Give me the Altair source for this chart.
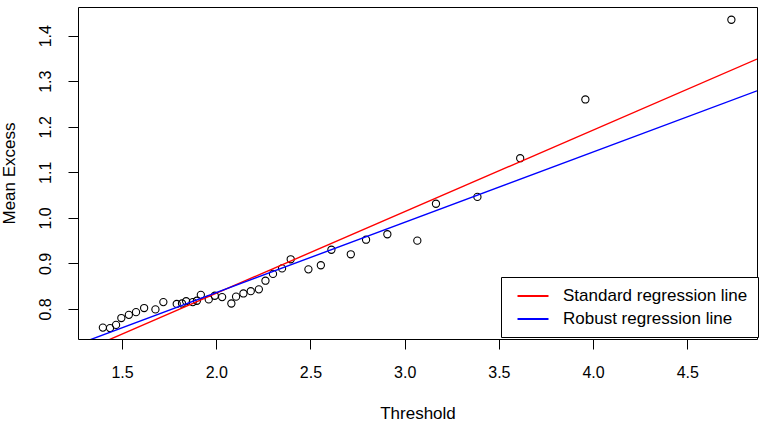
import altair as alt
import pandas as pd

# Mean excess points (threshold, mean excess)
threshold = [1.398, 1.436, 1.468, 1.496, 1.536, 1.574, 1.617, 1.677, 1.719, 1.790,
             1.818, 1.840, 1.875, 1.897, 1.918, 1.960, 1.992, 2.031, 2.080, 2.105,
             2.144, 2.183, 2.226, 2.261, 2.301, 2.349, 2.395, 2.489, 2.555, 2.611,
             2.714, 2.795, 2.908, 3.067, 3.166, 3.386, 3.613, 3.959, 4.734]
mean_excess = [0.759, 0.758, 0.765, 0.780, 0.787, 0.793, 0.802, 0.799, 0.815, 0.811,
               0.812, 0.817, 0.815, 0.818, 0.831, 0.821, 0.829, 0.826, 0.812, 0.827,
               0.834, 0.839, 0.843, 0.862, 0.877, 0.889, 0.909, 0.887, 0.896, 0.930,
               0.920, 0.952, 0.964, 0.950, 1.031, 1.046, 1.131, 1.260, 1.435]

# Regression lines (intercept, slope)
series_names = ["Standard regression line", "Robust regression line"]
intercepts = [0.476, 0.527]
slopes = [0.1792, 0.1544]
series_colors = ["#FF0000", "#0000FF"]

x_domain = [1.266, 4.870]
y_domain = [0.734, 1.463]
x_ticks = [1.5, 2.0, 2.5, 3.0, 3.5, 4.0, 4.5]
y_ticks = [0.8, 0.9, 1.0, 1.1, 1.2, 1.3, 1.4]

pts_df = pd.DataFrame({"threshold": threshold, "mean_excess": mean_excess})
rows = []
for name, a, b in zip(series_names, intercepts, slopes):
    for xv in x_domain:
        rows.append({"series": name, "x": xv, "y": a + b * xv})
lines_df = pd.DataFrame(rows)

FONT = "Liberation Sans"
xs = alt.Scale(domain=x_domain, nice=False, zero=False)
ys = alt.Scale(domain=y_domain, nice=False, zero=False)

x_axis = alt.Axis(values=x_ticks, format=".1f", title="Threshold",
                  labelPadding=15, titleY=74, titleBaseline="middle")
y_axis = alt.Axis(values=y_ticks, format=".1f", title="Mean Excess",
                  labelAngle=270, labelAlign="center", labelBaseline="bottom",
                  labelPadding=15, titleAngle=270, titleX=-69,
                  titleBaseline="middle", titleAlign="center")

points = alt.Chart(pts_df).mark_point(
    shape="circle", filled=False, color="black", size=52, strokeWidth=1.1, opacity=1
).encode(
    x=alt.X("threshold:Q", scale=xs, axis=x_axis),
    y=alt.Y("mean_excess:Q", scale=ys, axis=y_axis),
)

lines = alt.Chart(lines_df).mark_line(clip=True, strokeWidth=1.4).encode(
    x=alt.X("x:Q", scale=xs, axis=x_axis),
    y=alt.Y("y:Q", scale=ys, axis=y_axis),
    color=alt.Color(
        "series:N",
        scale=alt.Scale(domain=series_names, range=series_colors),
        sort=series_names,
        legend=alt.Legend(
            title=None, orient="none", legendX=423, legendY=270,
            direction="vertical",
            symbolType="M-2,0H2", symbolSize=240, symbolStrokeWidth=2,
            symbolOffset=13,
            labelFontSize=17, labelFont=FONT, labelColor="black",
            labelLimit=400, labelOffset=21, padding=10, rowPadding=6,
            strokeColor="black", fillColor="white", cornerRadius=0,
        ),
    ),
)

chart = alt.layer(points, lines).properties(
    width=679, height=332,
    autosize=alt.AutoSizeParams(type="none"),
    padding={"left": 78, "top": 7, "right": 5, "bottom": 83},
    background="white",
).configure_view(
    stroke="black", strokeWidth=1
).configure_axis(
    domain=False, grid=False, tickColor="black", tickSize=10, tickWidth=1,
    labelFont=FONT, labelFontSize=16, labelColor="black",
    titleFont=FONT, titleFontSize=17, titleFontWeight="normal", titleColor="black",
)

chart.save("out.html", embed_options={"renderer": "svg", "actions": False})
